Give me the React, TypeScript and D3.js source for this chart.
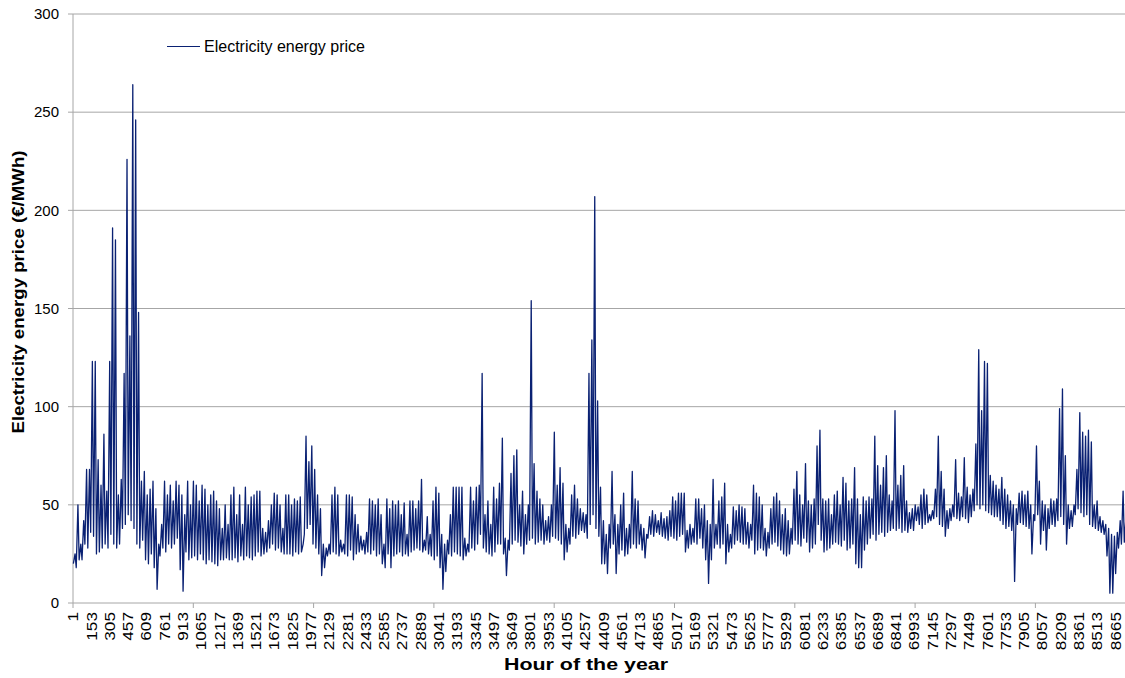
import React from "react";
import * as d3 from "d3";

// Daily minimum (night) and maximum (peak) prices, €/MWh, day 0..364
const dailyLow = [
  20,18,22,22,30,28,36,34,25,26,28,30,28,35,30,28,30,38,40,45,42,38,30,28,32,22,20,25,18,7,24,28,26,30,28,30,33,
  17,6,26,22,23,24,22,25,22,20,22,21,20,19,22,22,23,22,22,23,21,24,22,24,23,22,24,26,24,25,26,28,30,27,28,26,25,
  25,25,24,26,25,26,35,38,40,30,28,25,14,18,24,25,26,25,24,26,25,24,27,22,25,26,27,25,26,25,27,24,25,20,18,25,
  18,24,25,26,24,25,24,26,27,28,27,26,27,25,24,22,24,18,7,16,25,24,26,25,24,22,24,26,28,27,30,35,28,26,25,24,
  26,30,30,25,14,27,30,32,31,29,25,30,32,33,30,31,32,30,32,31,34,33,32,30,22,26,30,34,33,35,37,36,33,40,45,38,34,
  20,20,15,28,30,15,25,27,24,25,28,30,28,30,27,23,33,35,34,36,35,34,33,32,34,33,32,34,35,26,28,30,31,30,33,28,
  22,10,22,28,30,28,30,20,26,28,30,32,31,30,30,28,32,25,27,28,27,24,28,30,31,29,27,25,24,25,30,32,30,29,33,31,
  26,28,30,40,32,26,27,28,30,31,30,29,32,27,28,30,20,18,18,27,30,33,35,32,35,36,34,36,37,38,37,38,36,37,36,38,37,
  42,40,38,40,41,42,43,44,40,39,34,38,42,44,43,42,44,43,41,44,47,50,48,50,47,46,45,44,44,42,40,38,39,37,11,40,
  41,40,39,38,25,42,45,30,37,27,38,40,39,42,44,40,30,38,39,45,48,46,44,45,40,39,38,37,36,35,24,5,5,15,28,30,31,
];
const dailyHigh = [
  25,50,30,42,68,68,123,123,73,60,86,57,123,191,185,55,63,117,226,136,264,246,148,62,67,55,58,62,48,30,40,62,55,60,52,62,60,
  55,45,62,50,62,60,52,60,58,50,55,57,52,48,38,50,40,55,59,45,55,40,59,50,54,55,57,57,38,36,42,50,56,55,50,38,55,
  55,50,53,52,54,30,85,72,80,68,55,48,30,28,30,55,59,55,32,30,55,55,54,45,40,34,32,36,53,52,50,53,45,30,53,48,
  52,50,52,45,51,35,52,52,48,52,63,32,44,35,52,59,56,35,30,32,45,59,59,59,59,33,30,59,52,59,60,117,45,52,40,59,
  53,61,84,33,32,66,75,78,50,57,45,50,154,71,57,53,50,42,44,50,87,60,69,61,40,38,55,60,53,48,46,45,117,134,207,103,59,
  42,35,40,67,45,40,50,56,38,40,67,53,52,40,38,35,44,47,45,42,46,43,44,47,54,52,56,56,56,37,40,38,53,53,48,50,
  42,40,63,40,52,54,61,40,35,49,47,50,49,48,41,40,60,56,54,50,38,36,48,54,56,52,45,48,42,38,58,67,55,50,71,52,
  50,53,80,88,53,52,53,45,55,57,50,64,61,52,53,69,53,45,54,52,54,53,85,70,60,69,75,55,52,98,60,65,70,52,46,48,50,
  49,55,58,55,45,47,58,85,67,58,47,48,50,73,56,54,74,59,55,58,81,129,98,123,122,65,62,60,58,64,58,55,52,50,48,56,
  57,55,57,50,45,80,62,52,50,48,53,52,53,99,109,75,50,47,50,68,97,87,85,88,82,50,52,44,42,40,38,35,34,36,42,57,44,
];
// hour within each day at which the night low and the daily peak occur
const lowHour = 4;
const highHour = 18;

const yTicks = [0, 50, 100, 150, 200, 250, 300];
const xTickLabels = [
  1,153,305,457,609,761,913,1065,1217,1369,1521,1673,1825,1977,2129,2281,2433,2585,2737,2889,
  3041,3193,3345,3497,3649,3801,3953,4105,4257,4409,4561,4713,4865,5017,5169,5321,5473,5625,5777,
  5929,6081,6233,6385,6537,6689,6841,6993,7145,7297,7449,7601,7753,7905,8057,8209,8361,8513,8665,
];
const xTickMarks = [1, 1001, 2001, 3001, 4001, 5001, 6001, 7001, 8001];
const seriesName = "Electricity energy price";
const xTitle = "Hour of the year";
const yTitle = "Electricity energy price (€/MWh)";

const W = 1125;
const H = 678;
const left = 73;
const top = 14;
const bottom = 603;
const right = 73 + 8759 * 0.1203;
const FONT = "Arial, 'Liberation Sans', sans-serif";
const LINE = "#0a2173";

export default function App() {
  const x = d3.scaleLinear().domain([1, 8760]).range([left, right]);
  const y = d3.scaleLinear().domain([0, 300]).range([bottom, top]);

  const points: [number, number][] = [];
  dailyLow.forEach((lo, d) => {
    points.push([d * 24 + lowHour, lo]);
    points.push([d * 24 + highHour, dailyHigh[d]]);
  });
  const line = d3
    .line<[number, number]>()
    .x((p) => x(p[0]))
    .y((p) => y(p[1]));

  return (
    <svg
      width={W}
      height={H}
      style={{ position: "absolute", left: 0, top: 0, background: "#fff" }}
      fontFamily={FONT}
    >
      {/* gridlines */}
      {yTicks.slice(1).map((t) => (
        <line key={t} x1={left} x2={W} y1={y(t)} y2={y(t)} stroke="#a6a6a6" strokeWidth={1} />
      ))}
      {/* y axis */}
      <line x1={left} x2={left} y1={top} y2={bottom} stroke="#a6a6a6" strokeWidth={1} />
      {yTicks.map((t) => (
        <g key={t}>
          <line x1={left - 5} x2={left} y1={y(t)} y2={y(t)} stroke="#a6a6a6" />
          <text x={59} y={y(t)} dy="0.35em" textAnchor="end" fontSize={15} fill="#000">
            {t}
          </text>
        </g>
      ))}
      {/* x axis */}
      <line x1={left} x2={W} y1={bottom} y2={bottom} stroke="#a6a6a6" strokeWidth={1} />
      {xTickMarks.map((h) => (
        <line key={h} x1={x(h)} x2={x(h)} y1={bottom} y2={bottom + 5} stroke="#a6a6a6" />
      ))}
      {xTickLabels.map((h) => (
        <text
          key={h}
          transform={`translate(${x(h)},${bottom + 9}) rotate(-90) scale(1.15,1)`}
          dy="0.35em"
          textAnchor="end"
          fontSize={15}
          fill="#000"
        >
          {h}
        </text>
      ))}
      {/* series */}
      <path d={line(points) || ""} fill="none" stroke={LINE} strokeWidth={1.3} strokeLinejoin="round" />
      {/* legend */}
      <line x1={167} x2={200} y1={46.5} y2={46.5} stroke={LINE} strokeWidth={1} />
      <text x={204} y={52} fontSize={16} fill="#000">
        {seriesName}
      </text>
      {/* axis titles */}
      <text x={586} y={670} textAnchor="middle" fontSize={16} fontWeight="bold" textLength={164} lengthAdjust="spacingAndGlyphs">
        {xTitle}
      </text>
      <text
        transform="translate(24,292) rotate(-90)"
        textAnchor="middle"
        fontSize={16}
        fontWeight="bold"
        textLength={283}
        lengthAdjust="spacingAndGlyphs"
      >
        {yTitle}
      </text>
    </svg>
  );
}
